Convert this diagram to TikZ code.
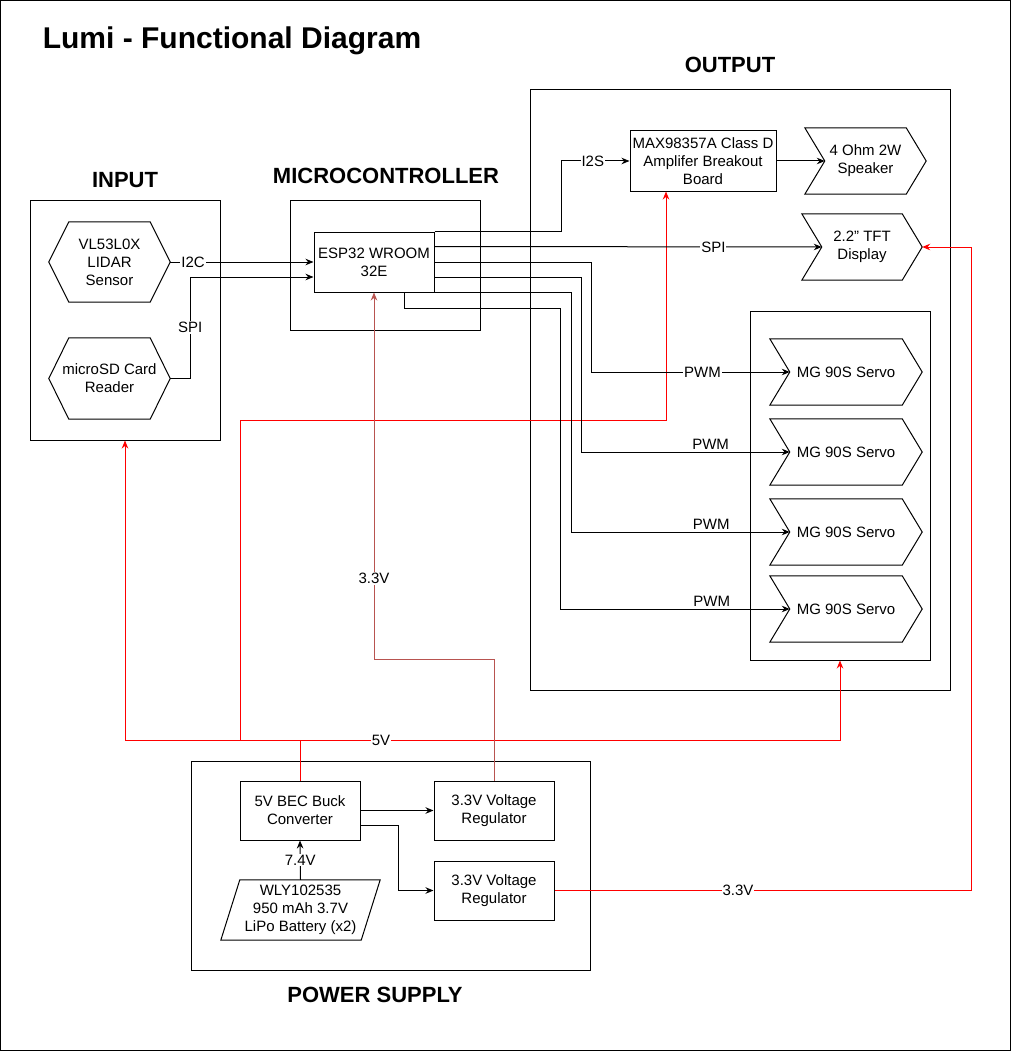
\documentclass[tikz,border=0pt]{standalone}
\usepackage{fontspec}
\setmainfont{Liberation Sans}
\usetikzlibrary{arrows.meta}
\definecolor{regred}{HTML}{B85450}
\newcommand*\nodefont{\fontsize{15}{18}\selectfont}
\newcommand*\groupfont{\fontsize{22}{26}\selectfont\bfseries}

\begin{document}
\begin{tikzpicture}[x=1pt,y=-1pt,
     >={Stealth[length=8pt,width=6.5pt]},
     wire/.style={draw=black,line width=1pt},
     pwr/.style={draw=red,line width=1pt},
     regpwr/.style={draw=regred,line width=1pt},
     box/.style={wire,rectangle,inner sep=0pt,align=center,font=\nodefont},
     group/.style={wire,rectangle,inner sep=0pt},
     chev/.style={rectangle,inner sep=0pt,align=center,font=\nodefont,
                  minimum width=152,minimum height=66},
     hexa/.style={rectangle,inner sep=0pt,align=center,font=\nodefont,
                  minimum width=121,minimum height=80},
     lbl/.style={fill=white,inner sep=1pt,font=\nodefont},
     grouplbl/.style={font=\groupfont}
     ]
   \useasboundingbox (0,0) rectangle (1011,1051);
   \draw[wire] (0.5,0.5) rectangle (1010,1050);

   \node[font=\fontsize{30}{34}\selectfont\bfseries] (title) at (232,41)
        {Lumi - Functional Diagram};

   % groups
   \node[group,minimum width=190,minimum height=240] (inputbox) at (125,320) {};
   \node[grouplbl] (inputlbl) at (125,180) {INPUT};
   \node[group,minimum width=190,minimum height=130] (mcubox) at (385,265) {};
   \node[grouplbl] (mculbl) at (386,176) {MICROCONTROLLER};
   \node[group,minimum width=420,minimum height=600] (outbox) at (740,390) {};
   \node[grouplbl] (outlbl) at (730,65) {OUTPUT};
   \node[group,minimum width=180,minimum height=349] (servobox) at (840,485.5) {};
   \node[group,minimum width=399,minimum height=209] (powerbox) at (390.5,865.5) {};
   \node[grouplbl] (powerlbl) at (375,995) {POWER SUPPLY};

   % input
   \node[hexa] (lidar) at (109.5,262) {VL53L0X\\LIDAR\\Sensor};
   \node[hexa,minimum height=81] (sdcard) at (109.5,378.5) {microSD Card\\Reader};
   \foreach \n in {lidar,sdcard}
     \draw[wire] (\n.west) -- ([xshift=20pt]\n.north west) -- ([xshift=-20pt]\n.north east)
        -- (\n.east) -- ([xshift=-20pt]\n.south east) -- ([xshift=20pt]\n.south west) -- cycle;

   % microcontroller
   \node[box,minimum width=120,minimum height=60] (esp) at (374,262) {ESP32 WROOM\\32E};

   % output
   \node[box,minimum width=146,minimum height=60] (amp) at (703,161)
        {MAX98357A Class D\\Amplifer Breakout\\Board};
   \node[chev,minimum width=121] (speaker) at (865.5,161) {4 Ohm 2W\\Speaker};
   \node[chev,minimum width=120] (tft) at (862,247) {2.2\symbol{34} TFT\\Display};
   \foreach \n/\y in {A/372,B/452,C/532,D/609}
     \node[chev] (servo\n) at (846,\y) {MG 90S Servo};
   \foreach \n in {speaker,tft,servoA,servoB,servoC,servoD}
     \draw[wire] (\n.north west) -- ([xshift=-20pt]\n.north east) -- (\n.east)
        -- ([xshift=-20pt]\n.south east) -- (\n.south west) -- ([xshift=20pt]\n.west) -- cycle;

   % power supply
   \node[box,minimum width=120,minimum height=59] (bec) at (300,810.5) {5V BEC Buck\\Converter};
   \node[box,minimum width=120,minimum height=59] (regA) at (494,810.5) {3.3V Voltage\\Regulator};
   \node[box,minimum width=120,minimum height=59] (regB) at (494,890.5) {3.3V Voltage\\Regulator};
   \node[rectangle,inner sep=0pt,align=center,font=\nodefont,
         minimum width=159,minimum height=60] (battery) at (300.5,910)
        {WLY102535\\950 mAh 3.7V\\LiPo Battery (x2)};
   \draw[wire] (battery.south west) -- ([xshift=19pt]battery.north west)
      -- (battery.north east) -- ([xshift=-19pt]battery.south east) -- cycle;

   % power lines
   \coordinate (tap5) at (300,740);
   \coordinate (tapamp) at (240,740);
   \draw[pwr] (bec.north) -- (tap5);
   \draw[pwr,->] (tap5) -| (inputbox.south);
   \draw[pwr,->] (tap5) -| node[lbl,pos=0.075]{5V} (servobox.south);
   \draw[pwr,->] (tapamp) -- ++(0,-320) -| ([xshift=-37pt]amp.south);
   \draw[regpwr,->] (regA.north) -- ++(0,-121) -| node[lbl,pos=0.61]{3.3V} (esp.south);
   \draw[pwr,->] (regB.east) -- node[lbl,pos=0.44]{3.3V} ++(417,0) |- (tft.east);

   % signal lines
   \draw[wire,->] (lidar.east) -- node[lbl,pos=0.16]{I2C} (esp.west);
   \draw[wire,->] (sdcard.east) -- ++(20,0) |- node[lbl,pos=0.25]{SPI}
        ([yshift=-15pt]esp.west);
   \draw[wire,->] (esp.north east) -- ++(127,0) |- node[lbl,pos=0.73]{I2S} (amp.west);
   \draw[wire,->] ([yshift=-15pt]esp.north east) -- node[lbl,pos=0.72]{SPI}
        ([xshift=20pt]tft.west);
   \draw[wire,->] (amp.east) -- ([xshift=20pt]speaker.west);
   \draw[wire,->] (esp.east) -- ++(157,0) |- node[lbl,pos=0.78]{PWM}
        ([xshift=20pt]servoA.west);
   \draw[wire,->] ([yshift=-15pt]esp.east) -- ++(147,0) |- node[lbl,pos=0.81,above=1pt]{PWM}
        ([xshift=20pt]servoB.west);
   \draw[wire,->] (esp.south east) -- ++(137,0) |- node[lbl,pos=0.82,above=1pt]{PWM}
        ([xshift=20pt]servoC.west);
   \draw[wire,->] ([xshift=30pt]esp.south) |- (560,308) |- node[lbl,pos=0.83,above=1pt]{PWM}
        ([xshift=20pt]servoD.west);

   % battery to converter, converter to regulators
   \draw[wire,->] (battery.north) -- node[lbl]{7.4V} (bec.south);
   \draw[wire,->] (bec.east) -- (regA.west);
   \draw[wire,->] ([yshift=-15pt]bec.east) -- ++(38,0) |- (regB.west);
 \end{tikzpicture}
\end{document}
